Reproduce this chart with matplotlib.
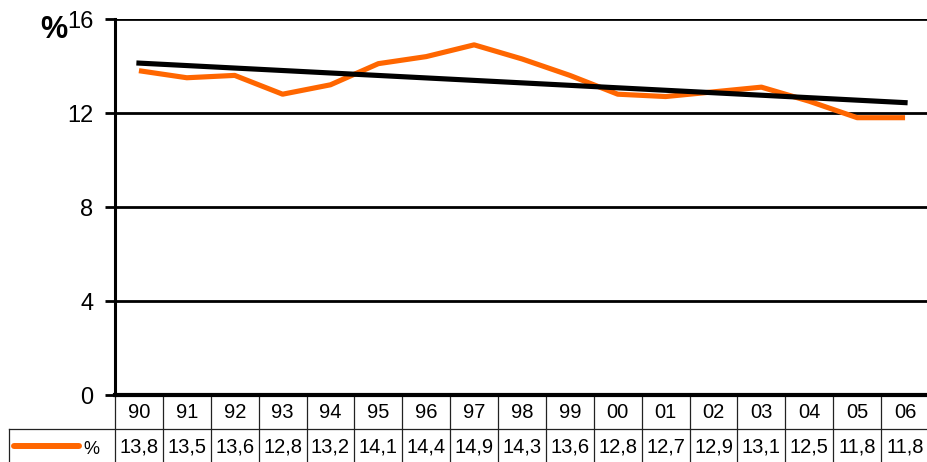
import numpy as np
import matplotlib
matplotlib.use('Agg')
import matplotlib.pyplot as plt
import matplotlib.transforms as mtransforms

plt.rcParams['font.family'] = ['Liberation Sans', 'DejaVu Sans']

years = ['90', '91', '92', '93', '94', '95', '96', '97', '98', '99',
         '00', '01', '02', '03', '04', '05', '06']
values = [13.8, 13.5, 13.6, 12.8, 13.2, 14.1, 14.4, 14.9, 14.3, 13.6,
          12.8, 12.7, 12.9, 13.1, 12.5, 11.8, 11.8]
yticks = [0, 4, 8, 12, 16]

W, H = 928, 462
fig = plt.figure(figsize=(W / 100, H / 100), dpi=100)


def fy(py):
    # pixel from top -> figure fraction
    return 1 - py / H


def fx(px):
    return px / W


# plot area in pixels
left, right, top, bottom = 115, 929, 19, 395
ax = fig.add_axes([fx(left), fy(bottom), fx(right) - fx(left), fy(top) - fy(bottom)])

x = np.arange(len(values))
ax.set_xlim(-0.5, len(values) - 0.5)
ax.set_ylim(0, 16)

for t in yticks[1:]:
    ax.axhline(t, color='black', lw=2, zorder=1)

ax.plot(x, values, color='#FF6600', lw=3.7, solid_capstyle='butt', zorder=3)
# linear trend
coef = np.polyfit(x, values, 1)
ax.plot(x, np.polyval(coef, x), color='black', lw=3.7, zorder=4)

for s in ['top', 'right']:
    ax.spines[s].set_visible(False)
ax.spines['left'].set_linewidth(2.2)
ax.spines['bottom'].set_linewidth(3)
ax.set_xticks([])
ax.set_yticks(yticks)
ax.set_yticklabels([str(t) for t in yticks], fontsize=17)
ax.tick_params(axis='y', length=7.5, width=2, pad=8)

fig.text(fx(53.5), fy(30), '%', fontsize=22, fontweight='bold', ha='center', va='center')

# data table
tr = mtransforms.blended_transform_factory(ax.transData, fig.transFigure)
row1_top, row_mid, row2_bot = 395, 429, 462
lc = '#222222'
for i in range(len(years) + 1):
    xb = i - 0.5
    ax.plot([xb, xb], [fy(row1_top), fy(row2_bot)], color=lc, lw=0.9,
            transform=tr, clip_on=False)
for i, (yr, v) in enumerate(zip(years, values)):
    ax.text(i, fy(412), yr, fontsize=14.5, ha='center', va='center', transform=tr)
    ax.text(i, fy(447), str(v).replace('.', ','), fontsize=14.5, ha='center',
            va='center', transform=tr)

fig.add_artist(plt.Line2D([fx(9), fx(right)], [fy(row_mid), fy(row_mid)],
                          color=lc, lw=0.9))
fig.add_artist(plt.Line2D([fx(9.5), fx(9.5)], [fy(row_mid), fy(row2_bot)],
                          color=lc, lw=0.9))
fig.add_artist(plt.Line2D([fx(14), fx(79)], [fy(446), fy(446)],
                          color='#FF6600', lw=4.3, solid_capstyle='round'))
fig.text(fx(91.5), fy(449), '%', fontsize=13, ha='center', va='center')

fig.savefig('out.png', dpi=100)
